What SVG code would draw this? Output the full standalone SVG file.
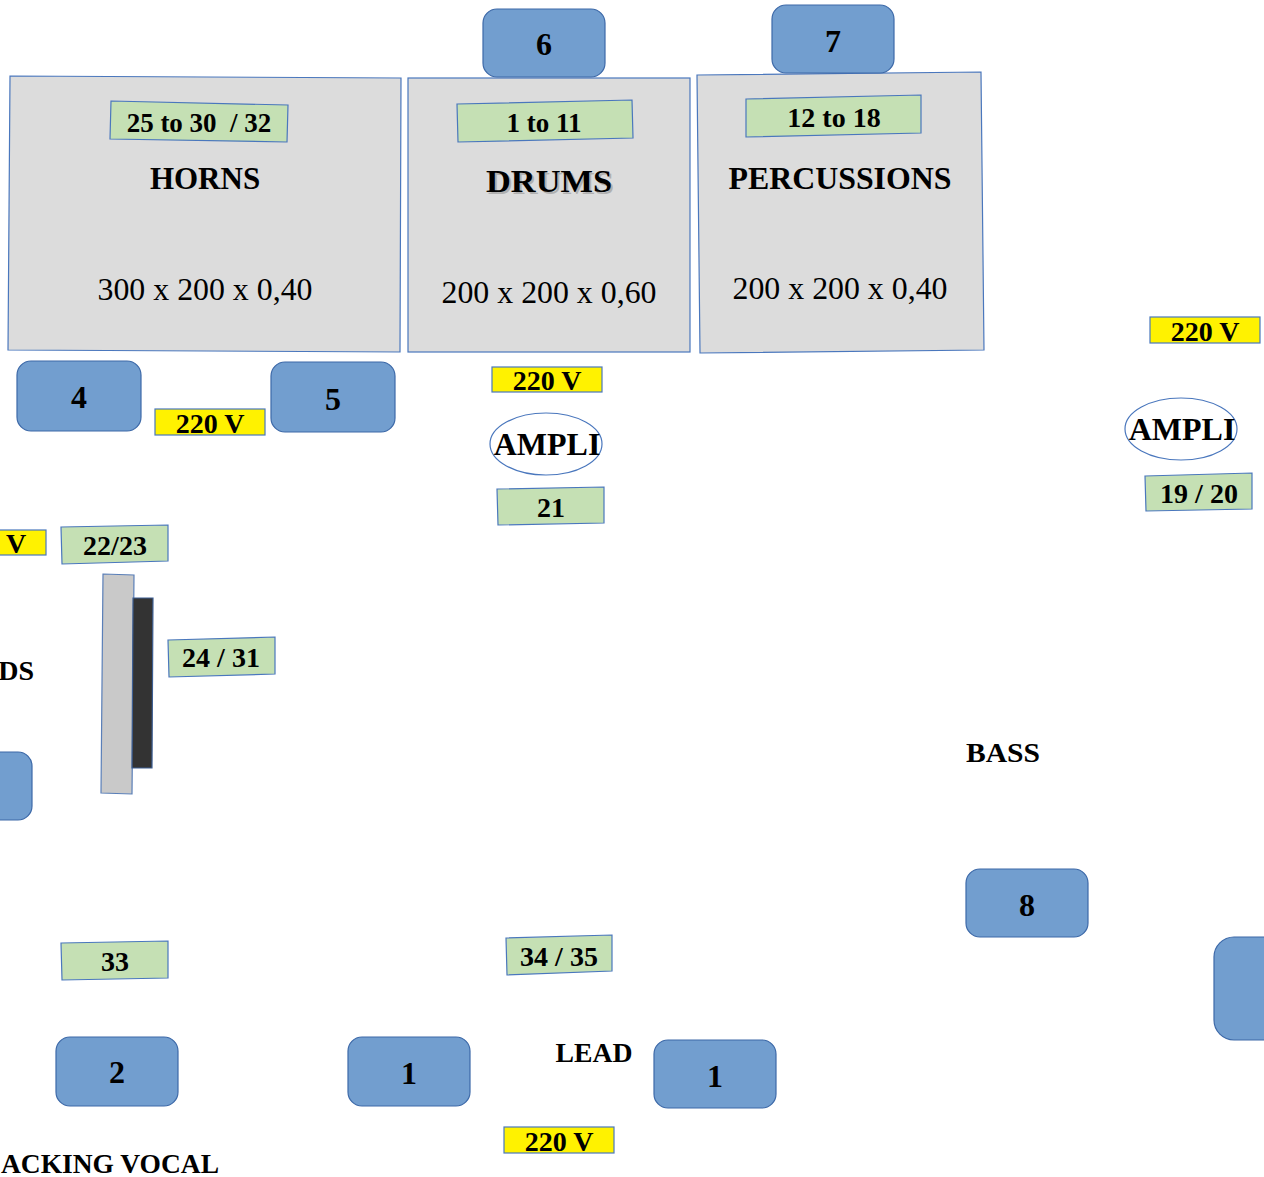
<svg xmlns="http://www.w3.org/2000/svg" width="1264" height="1177" viewBox="0 0 1264 1177">
<style>
.area{fill:#dcdcdc;stroke:#4a77bd;stroke-width:1.2}
.mon{fill:#729ecf;stroke:#3d69a8;stroke-width:1.2}
.ch{fill:#c5e0b4;stroke:#4a77bd;stroke-width:1.2}
.pw{fill:#fff200;stroke:#4a77bd;stroke-width:1.2}
.amp{fill:#ffffff;stroke:#4a77bd;stroke-width:1.2}
text{font-family:"Liberation Serif","Times New Roman",serif;font-weight:bold;fill:#000;text-anchor:middle}
.reg{font-weight:normal}
.t31{font-size:31px}
.t28{font-size:28px}
.t27{font-size:27px}
.t32{font-size:32px}
</style>

<g id="horns">
<polygon class="area" points="10,76 401,78 400,352 8,350"/>
<polygon class="ch" points="111,101 288,105 287,142 110,139"/>
<text class="t27" x="199" y="132" xml:space="preserve">25 to 30  / 32</text>
<text class="t31" x="205" y="189">HORNS</text>
<text class="reg t32" x="205" y="300" textLength="215" lengthAdjust="spacingAndGlyphs">300 x 200 x 0,40</text>
</g>

<g id="drums">
<rect class="area" x="408" y="78" width="282" height="274"/>
<polygon class="ch" points="457,104 632,100 633,138 458,142"/>
<text class="t27" x="544" y="132">1 to 11</text>
<text class="t32" x="551" y="194" style="fill:#b0b0b0" textLength="126" lengthAdjust="spacingAndGlyphs">DRUMS</text>
<text class="t32" x="549" y="192" textLength="126" lengthAdjust="spacingAndGlyphs">DRUMS</text>
<text class="reg t32" x="549" y="303" textLength="215" lengthAdjust="spacingAndGlyphs">200 x 200 x 0,60</text>
</g>

<g id="percussions">
<polygon class="area" points="697,75 981,72 984,350 700,353"/>
<polygon class="ch" points="746,99 921,95 921,133 746,137"/>
<text class="t28" x="834" y="127">12 to 18</text>
<text class="t31" x="840" y="189" textLength="223" lengthAdjust="spacingAndGlyphs">PERCUSSIONS</text>
<text class="reg t32" x="840" y="299" textLength="215" lengthAdjust="spacingAndGlyphs">200 x 200 x 0,40</text>
</g>

<g id="mon6"><rect class="mon" x="483" y="9" width="122" height="68" rx="14"/><text class="t32" x="544" y="55">6</text></g>
<g id="mon7"><rect class="mon" x="772" y="5" width="122" height="68" rx="14"/><text class="t32" x="833" y="52">7</text></g>
<g id="mon4"><rect class="mon" x="17" y="361" width="124" height="70" rx="14"/><text class="t32" x="79" y="408">4</text></g>
<g id="mon5"><rect class="mon" x="271" y="362" width="124" height="70" rx="14"/><text class="t32" x="333" y="410">5</text></g>
<g id="mon-left"><rect class="mon" x="-90" y="752" width="122" height="68" rx="14"/></g>
<g id="mon8"><rect class="mon" x="966" y="869" width="122" height="68" rx="14"/><text class="t32" x="1027" y="916">8</text></g>
<g id="mon-right"><rect class="mon" x="1214" y="937" width="122" height="103" rx="20"/><text class="t32" x="1270" y="1000">1</text></g>
<g id="mon2"><rect class="mon" x="56" y="1037" width="122" height="69" rx="14"/><text class="t32" x="117" y="1083">2</text></g>
<g id="mon1a"><rect class="mon" x="348" y="1037" width="122" height="69" rx="14"/><text class="t32" x="409" y="1084">1</text></g>
<g id="mon1b"><rect class="mon" x="654" y="1040" width="122" height="68" rx="14"/><text class="t32" x="715" y="1087">1</text></g>

<g id="pw-horns"><rect class="pw" x="155" y="409" width="110" height="26"/><text class="t28" x="210" y="433">220 V</text></g>
<g id="pw-drums"><rect class="pw" x="492" y="367" width="110" height="25"/><text class="t28" x="547" y="390">220 V</text></g>
<g id="pw-right"><rect class="pw" x="1150" y="317" width="110" height="26"/><text class="t28" x="1205" y="341">220 V</text></g>
<g id="pw-left"><rect class="pw" x="-64" y="530" width="110" height="25"/><text class="t28" x="16" y="553">V</text></g>
<g id="pw-bottom"><rect class="pw" x="504" y="1127" width="110" height="26"/><text class="t28" x="559" y="1151">220 V</text></g>

<g id="ampli-drums"><ellipse class="amp" cx="546" cy="444" rx="56" ry="31"/><text class="t32" x="547" y="455">AMPLI</text></g>
<g id="ampli-right"><ellipse class="amp" cx="1181" cy="429" rx="56" ry="31"/><text class="t32" x="1182" y="440">AMPLI</text></g>

<g id="ch21"><polygon class="ch" points="497,489 604,487 604,523 498,525"/><text class="t28" x="551" y="517">21</text></g>
<g id="ch1920"><polygon class="ch" points="1145,476 1252,473 1252,509 1146,511"/><text class="t28" x="1199" y="503">19 / 20</text></g>
<g id="ch2223"><polygon class="ch" points="61,527 168,525 168,561 62,564"/><text class="t28" x="115" y="555">22/23</text></g>
<g id="ch2431"><polygon class="ch" points="168,640 275,637 275,674 169,677"/><text class="t28" x="221" y="667">24 / 31</text></g>
<g id="ch33"><polygon class="ch" points="61,943 168,941 168,978 62,980"/><text class="t28" x="115" y="971">33</text></g>
<g id="ch3435"><polygon class="ch" points="506,938 612,935 612,971 507,975"/><text class="t28" x="559" y="966">34 / 35</text></g>

<g id="keyboard">
<polygon points="103,574 134,575 132,794 101,793" fill="#c9c9c9" stroke="#5a7fb8" stroke-width="1.2"/>
<polygon points="133,598 153,598 152,768 132,768" fill="#333333" stroke="#3d5f94" stroke-width="1.2"/>
</g>

<g id="labels">
<text class="t28" x="34" y="680" style="text-anchor:end">DS</text>
<text class="t28" x="1003" y="762" textLength="74" lengthAdjust="spacingAndGlyphs">BASS</text>
<text class="t28" x="594" y="1062" textLength="77" lengthAdjust="spacingAndGlyphs">LEAD</text>
<text class="t28" x="1" y="1173" style="text-anchor:start" textLength="218" lengthAdjust="spacingAndGlyphs">ACKING VOCAL</text>
</g>

<g id="connectors"></g>
</svg>
